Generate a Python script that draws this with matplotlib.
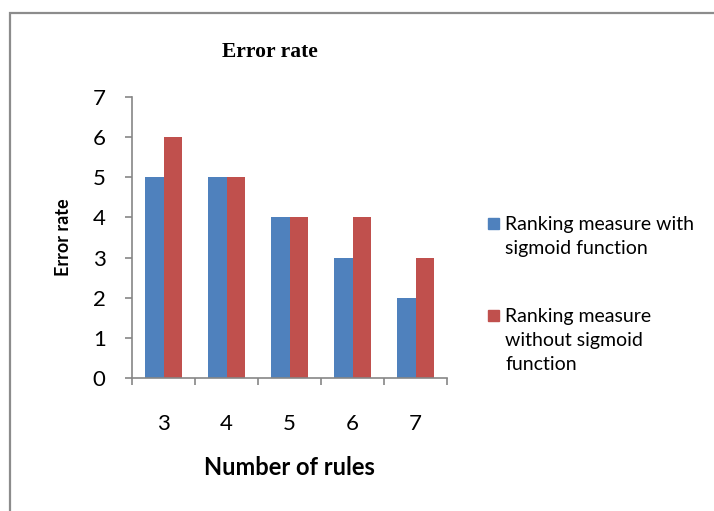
import matplotlib
matplotlib.use("Agg")
import matplotlib.pyplot as plt
from matplotlib.patches import Rectangle
import numpy as np

# data
rules = ["3", "4", "5", "6", "7"]
with_sigmoid = [5, 5, 4, 3, 2]
without_sigmoid = [6, 5, 4, 4, 3]
series_labels = ["Ranking measure with\nsigmoid function",
                 "Ranking measure\nwithout sigmoid\nfunction"]
series_colors = ["#4F81BD", "#C0504D"]

W, H = 714, 511
plt.rcParams['font.family'] = ['Lato', 'DejaVu Sans']

fig = plt.figure(figsize=(W / 100, H / 100), dpi=100)
fig.patch.set_facecolor("white")

# outer chart border (gray frame running off the right/bottom edge)
fig.patches.append(Rectangle((10 / W, -0.1), 1.2, 1 - 13 / H + 0.1,
                             transform=fig.transFigure, fill=False,
                             edgecolor="#8c8c8c", linewidth=1.6))

ax = fig.add_axes([132 / W, 1 - 378 / H, (447 - 132) / W, (378 - 97) / H])

x = np.arange(len(rules))
bw = 0.29
ax.bar(x - bw / 2, with_sigmoid, bw, color=series_colors[0])
ax.bar(x + bw / 2, without_sigmoid, bw, color=series_colors[1])

ax.set_xlim(-0.5, len(rules) - 0.5)
ax.set_ylim(0, 7)
ax.set_yticks(range(0, 8))
ax.set_xticks(x, rules)
ax.set_xticks(np.arange(-0.5, len(rules)), minor=True)

for s in ["top", "right"]:
    ax.spines[s].set_visible(False)
for s in ["left", "bottom"]:
    ax.spines[s].set_color("#868686")
    ax.spines[s].set_linewidth(1.2)

ax.tick_params(axis="y", length=5, width=1.2, color="#868686", labelsize=16, pad=14)
ax.tick_params(axis="x", which="major", length=0, labelsize=16, pad=26)
ax.tick_params(axis="x", which="minor", length=5, width=1.2, color="#868686")

ax.set_xlabel("Number of rules", fontsize=17, fontweight="bold", labelpad=16)
ax.set_ylabel("Error rate", fontsize=13, fontweight="bold", labelpad=15)

fig.text(270 / W, 1 - 52 / H, "Error rate", ha="center", va="center",
         family="Liberation Serif", fontweight="bold", fontsize=15.5)

# legend drawn by hand to match the stacked, wrapped layout
legend_tops = [223, 315]
for lab, col, yt in zip(series_labels, series_colors, legend_tops):
    fig.patches.append(Rectangle((488 / W, 1 - (yt + 6) / H), 11 / W, 11 / H,
                                 transform=fig.transFigure, color=col))
    fig.text(505 / W, 1 - (yt - 7) / H, lab, ha="left", va="top",
             fontsize=14, linespacing=1.5)

fig.savefig("out.png", dpi=100)
